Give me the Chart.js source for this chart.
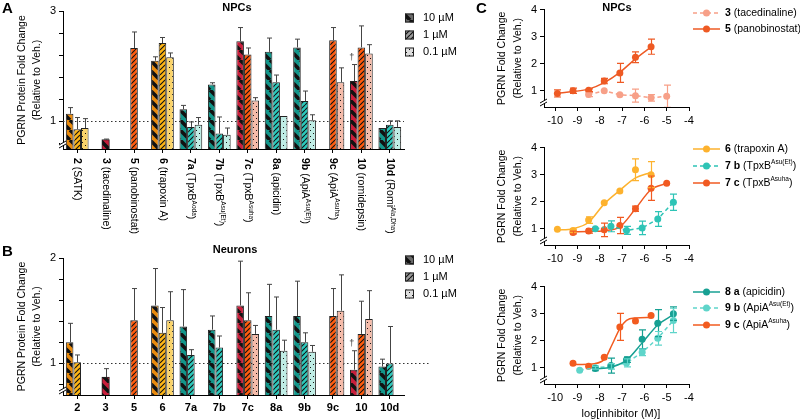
<!DOCTYPE html>
<html>
<head>
<meta charset="utf-8">
<script src="https://cdn.jsdelivr.net/npm/chart.js@4.4.1/dist/chart.umd.min.js"></script>
<style>
html, body { margin: 0; padding: 0; background: #fff; }
#wrap { position: relative; width: 800px; height: 419px; overflow: hidden; }
canvas { position: absolute; }
</style>
</head>
<body>
<div id="wrap">
  <canvas id="chartA" width="470" height="243" style="left:0;top:0"></canvas>
  <canvas id="chartB" width="470" height="176" style="left:0;top:243px"></canvas>
  <canvas id="chartC1" width="330" height="131" style="left:470px;top:0"></canvas>
  <canvas id="chartC2" width="330" height="131" style="left:470px;top:138px"></canvas>
  <canvas id="chartC3" width="330" height="142" style="left:470px;top:277px"></canvas>
</div>
<script>
const FONT = '"Liberation Sans", Arial, sans-serif';

// ---- panels A/B: compounds on the x axis ----
const compounds = ['2', '3', '5', '6', '7a', '7b', '7c', '8a', '9b', '9c', '10', '10d'];
const compoundNames = ['SATK', 'tacedinaline', 'panobinostat', 'trapoxin A', 'TpxB', 'TpxB', 'TpxB',
  'apicidin', 'ApiA', 'ApiA', 'romidepsin', 'Romi'];
const compoundSups = ['', '', '', '', 'Aoda', 'Asu(Et)', 'Asuha', '', 'Asu(Et)', 'Asuha', '', 'Ala,Dha'];
const singleDose = ['3'];   // only one bar, drawn centred on its compound
const doseLabels = ['10 µM', '1 µM', '0.1 µM'];

// A - NPCs
const npc10 = [1.14, 0.67, null, 2.10, 1.22, 1.67, 2.45, 2.26, 2.34, null, 1.73, 0.88];
const npc10Err = [0.11, 0.01, null, 0.07, 0.07, 0.03, 0.25, 0.25, 0.15, null, 0.30, 0];
const npc1 = [0.86, null, 2.33, 2.42, 0.90, 0.78, 2.21, 1.71, 1.37, 2.47, 2.34, 0.94];
const npc1Err = [0.21, null, 0.29, 0.10, 0.09, 0.30, 0.12, 0.13, 0.18, 0.23, 0.39, 0.07];
const npc01 = [0.88, null, null, 2.16, 0.94, 0.76, 1.38, 1.10, 1.02, 1.71, 2.23, 0.90];
const npc01Err = [0.17, null, null, 0.08, 0.13, 0.12, 0.05, 0, 0.10, 0.26, 0.16, 0.11];
const yTicksA = [0.6, 0.8, 1, 1.2, 1.4, 1.6, 1.8, 2, 2.2, 2.4, 2.6, 2.8, 3];

// B - Neurons
const neu10 = [1.20, 0.87, null, 1.55, 1.35, 1.32, 1.55, 1.45, 1.45, null, 0.94, 0.97];
const neu10Err = [0.18, 0.08, null, 0.35, 0.35, 0.13, 0.42, 0.30, 0.33, null, 0.18, 0.07];
const neu1 = [1.01, null, 1.41, 1.29, 1.08, 1.15, 1.41, 1.32, 1.20, 1.45, 1.28, 1.00];
const neu1Err = [0.07, null, 0.30, 0.24, 0.05, 0.11, 0.26, 0.31, 0.09, 0.26, 0.31, 0.35];
const neu01 = [null, null, null, 1.41, null, null, 1.28, 1.12, 1.11, 1.50, 1.42, null];
const neu01Err = [null, null, null, 0.27, null, null, 0.08, 0.10, 0.06, 0.34, 0.27, null];
const yTicksB = [0.8, 1, 1.2, 1.4, 1.6, 1.8, 2];

// ---- panel C: dose response, x = log[inhibitor (M)] ----
const xTicksC = [-10, -9, -8, -7, -6, -5, -4];
const yTicksC = [1, 2, 3, 4];

const tacX = [-8.5, -7.8, -7.1, -6.4, -5.7, -5.0];
const tacY = [0.86, 1.00, 0.85, 0.82, 0.74, 0.80];
const tacErr = [0.08, 0, 0, 0.24, 0.12, 0.41];

const panoX = [-9.9, -9.2, -8.5, -7.8, -7.1, -6.4, -5.7];
const panoY = [0.90, 1.00, 1.02, 1.36, 1.66, 2.24, 2.63];
const panoErr = [0.13, 0.10, 0.05, 0.10, 0.35, 0.20, 0.28];
const panoFit = [0.91, 0.97, 1.06, 1.30, 1.68, 2.18, 2.62];

const tpxAX = [-9.9, -9.2, -8.5, -7.8, -7.1, -6.4, -5.7];
const tpxAY = [0.98, 0.94, 1.32, 1.96, 2.40, 3.18, 3.00];
const tpxAErr = [0, 0.05, 0.12, 0, 0, 0.40, 0.48];
const tpxAFit = [0.95, 1.00, 1.24, 1.92, 2.42, 2.88, 3.08];

const tpxEtX = [-8.2, -7.5, -6.8, -6.1, -5.4, -4.7];
const tpxEtY = [1.00, 1.09, 0.94, 1.03, 1.36, 1.98];
const tpxEtErr = [0, 0.20, 0.15, 0.25, 0.27, 0.30];

const tpxHaX = [-9.2, -8.5, -7.8, -7.1, -6.4, -5.7, -5.0];
const tpxHaY = [0.86, 0.92, 0.96, 1.12, 1.74, 2.50, 2.68];
const tpxHaErr = [0.05, 0.08, 0.25, 0.30, 0.10, 0.45, 0];
const tpxHaFit = [0.89, 0.90, 0.93, 1.07, 1.74, 2.45, 2.68];

const apiX = [-8.2, -7.5, -6.8, -6.1, -5.4, -4.7];
const apiY = [0.97, 1.08, 1.30, 2.05, 2.65, 3.00];
const apiErr = [0.08, 0.28, 0.10, 0.35, 0.50, 0.25];
const apiFit = [0.96, 1.02, 1.28, 1.92, 2.58, 2.96];

const apiEtX = [-8.9, -8.2, -7.5, -6.8, -6.1, -5.4, -4.7];
const apiEtY = [0.91, 1.00, 1.05, 1.18, 1.57, 2.09, 2.75];
const apiEtErr = [0, 0.05, 0.10, 0.15, 0.12, 0.25, 0.45];

const apiHaX = [-9.2, -8.5, -7.8, -7.1, -6.4, -5.7];
const apiHaY = [1.17, 1.06, 1.39, 2.51, 2.73, 2.93];
const apiHaErr = [0, 0, 0, 0.50, 0, 0];
const apiHaFitX = [-9.2, -8.5, -7.8, -7.45, -7.1, -6.8, -6.4, -5.7];
const apiHaFit = [1.12, 1.13, 1.30, 1.85, 2.45, 2.75, 2.84, 2.86];

// ---- styles ----
const family = ['orange', 'red', 'red', 'orange', 'teal', 'teal', 'red', 'teal', 'teal', 'red', 'red', 'teal'];
const palette = {
  orange: ['#E98A0C', '#FDB515', '#FAD36A'],
  red: ['#C81F3C', '#FF5B0E', '#F5BBA9'],
  teal: ['#13968A', '#2CC8BB', '#BFEDE5']
};
const fills = ['stripe', 'hatch', 'dots'];
const legendGreys = ['#6a6a6a', '#9a9a9a', '#dedede'];

Chart.defaults.font.family = FONT;
Chart.defaults.font.size = 11;
Chart.defaults.color = '#000';

const patternCache = {};
function makePattern(color, kind) {
  const key = color + kind;
  if (patternCache[key]) return patternCache[key];
  const s = kind === 'stripe' ? 10 : kind === 'hatch' ? 5 : 6;
  const c = document.createElement('canvas');
  c.width = s; c.height = s;
  const g = c.getContext('2d');
  g.fillStyle = color; g.fillRect(0, 0, s, s);
  g.strokeStyle = '#111'; g.fillStyle = '#111';
  if (kind === 'dots') {
    g.fillRect(1, 1, 1, 1); g.fillRect(4, 4, 1, 1);
  } else {
    g.lineWidth = kind === 'stripe' ? 3.6 : 1.1;
    g.beginPath();
    for (const off of [-s, 0, s]) {
      if (kind === 'stripe') { g.moveTo(off, 0); g.lineTo(off + s, s); }
      else { g.moveTo(off, s); g.lineTo(off + s, 0); }
    }
    g.stroke();
  }
  patternCache[key] = g.createPattern(c, 'repeat');
  return patternCache[key];
}

// draws bold / normal / superscript runs left to right
function richText(ctx, x, y, parts, size) {
  let cx = x;
  ctx.textAlign = 'left';
  ctx.textBaseline = 'middle';
  parts.forEach(p => {
    if (!p.t) return;
    const fs = p.sup ? size * 0.62 : size;
    ctx.font = (p.bold ? 'bold ' : '') + fs + 'px ' + FONT;
    ctx.fillText(p.t, cx, p.sup ? y - size * 0.32 : y);
    cx += ctx.measureText(p.t).width;
  });
}

function compoundParts(i) {
  return [{ t: compounds[i], bold: true }, { t: ' (' + compoundNames[i] }, { t: compoundSups[i], sup: true }, { t: ')' }];
}

const errorBars = {
  id: 'errorBars',
  afterDatasetsDraw(chart) {
    const { ctx, chartArea: a } = chart;
    const ys = chart.scales.y;
    chart.data.datasets.forEach((ds, i) => {
      if (!ds.errors) return;
      const meta = chart.getDatasetMeta(i);
      const isBar = meta.type === 'bar';
      ctx.save();
      ctx.beginPath(); ctx.rect(a.left - 5, a.top - 20, a.width + 10, a.height + 20); ctx.clip();
      ctx.strokeStyle = isBar ? '#444' : ds.borderColor;
      ctx.lineWidth = isBar ? 1 : 1.2;
      meta.data.forEach((el, j) => {
        const raw = ds.data[j];
        const v = raw != null && typeof raw === 'object' ? raw.y : raw;
        const e = ds.errors[j];
        if (v == null || !e) return;
        const x = Math.round(el.x) + 0.5;
        const top = ys.getPixelForValue(v + e);
        const bot = isBar ? el.y : ys.getPixelForValue(v - e);
        const cap = isBar ? 2.5 : 3.5;
        ctx.beginPath();
        ctx.moveTo(x, bot); ctx.lineTo(x, top);
        ctx.moveTo(x - cap, top); ctx.lineTo(x + cap, top);
        if (!isBar) { ctx.moveTo(x - cap, bot); ctx.lineTo(x + cap, bot); }
        ctx.stroke();
      });
      ctx.restore();
    });
  }
};

function makeDecor(cfg) {
  return {
    id: 'decor',
    beforeDatasetsDraw(chart) {
      if (cfg.refLine == null) return;
      const { ctx, chartArea: a } = chart;
      const y = Math.round(chart.scales.y.getPixelForValue(cfg.refLine)) + 0.5;
      ctx.save();
      ctx.strokeStyle = '#333'; ctx.lineWidth = 1.2; ctx.setLineDash([1.5, 2.5]);
      ctx.beginPath(); ctx.moveTo(a.left, y); ctx.lineTo(a.right + (cfg.refExtra || 0), y); ctx.stroke();
      ctx.restore();
    },
    afterDraw(chart) {
      const { ctx, chartArea: a } = chart;
      ctx.save();
      ctx.fillStyle = '#000';

      // axis break at the bottom of the y axis
      ctx.fillStyle = '#fff';
      ctx.fillRect(a.left - 3, a.bottom - 7, 6, 3);
      ctx.strokeStyle = '#000'; ctx.lineWidth = 1;
      ctx.beginPath();
      ctx.moveTo(a.left - 4, a.bottom - 4); ctx.lineTo(a.left + 3, a.bottom - 8);
      ctx.moveTo(a.left - 4, a.bottom - 1); ctx.lineTo(a.left + 3, a.bottom - 5);
      ctx.stroke();
      ctx.fillStyle = '#000';

      // panel letter and title
      ctx.textAlign = 'left'; ctx.textBaseline = 'middle';
      ctx.font = 'bold 15px ' + FONT;
      ctx.fillText(cfg.letter.t, cfg.letter.x, cfg.letter.y);
      if (cfg.title) {
        ctx.textAlign = 'center';
        ctx.font = 'bold 11px ' + FONT;
        ctx.fillText(cfg.title.t, cfg.title.x, cfg.title.y);
      }

      // y axis title, two rotated lines
      const yc = (a.top + a.bottom) / 2;
      ctx.font = '10.5px ' + FONT;
      cfg.yTitle.lines.forEach((line, k) => {
        ctx.save();
        ctx.translate(cfg.yTitle.xs[k], yc);
        ctx.rotate(-Math.PI / 2);
        ctx.textAlign = 'center'; ctx.textBaseline = 'middle';
        ctx.fillText(line, 0, 0);
        ctx.restore();
      });

      if (cfg.xTitle) {
        ctx.textAlign = 'center'; ctx.textBaseline = 'middle';
        ctx.font = '11px ' + FONT;
        ctx.fillText(cfg.xTitle.t, cfg.xTitle.x, cfg.xTitle.y);
      }

      // rotated compound names under panel A
      if (cfg.rotLabels) {
        const xs = chart.scales.x;
        compounds.forEach((c, i) => {
          ctx.save();
          ctx.translate(xs.getPixelForValue(i), a.bottom + 9);
          ctx.rotate(Math.PI / 2);
          richText(ctx, 0, 0, compoundParts(i), 10.5);
          ctx.restore();
        });
      }

      // bar legend (dose)
      if (cfg.barLegend) {
        cfg.barLegend.ys.forEach((y, d) => {
          ctx.fillStyle = makePattern(legendGreys[d], fills[d]);
          ctx.fillRect(cfg.barLegend.x, y - 4.5, 9, 9);
          ctx.strokeStyle = '#222'; ctx.lineWidth = 1;
          ctx.strokeRect(cfg.barLegend.x + 0.5, y - 4, 8, 8);
          ctx.fillStyle = '#000';
          richText(ctx, cfg.barLegend.x + 18, y, [{ t: doseLabels[d] }], 11);
        });
      }

      // dagger marks
      (cfg.daggers || []).forEach(dg => {
        const ds = chart.data.datasets[dg.ds];
        const el = chart.getDatasetMeta(dg.ds).data[dg.idx];
        const top = chart.scales.y.getPixelForValue(ds.data[dg.idx] + (ds.errors[dg.idx] || 0));
        ctx.fillStyle = '#333';
        ctx.font = '9px ' + FONT; ctx.textAlign = 'center'; ctx.textBaseline = 'middle';
        ctx.fillText('\u2020', el.x - 2, top - 7);
      });

      // line legend
      if (cfg.lineLegend) {
        const L = cfg.lineLegend;
        L.entries.forEach((e, k) => {
          const y = L.ys[k];
          ctx.strokeStyle = e.color; ctx.fillStyle = e.color; ctx.lineWidth = 1.5;
          ctx.setLineDash(e.dashed ? [4, 3] : []);
          ctx.beginPath(); ctx.moveTo(L.x, y); ctx.lineTo(L.x + 27, y); ctx.stroke();
          ctx.setLineDash([]);
          ctx.beginPath(); ctx.arc(L.x + 13.5, y, 3.5, 0, Math.PI * 2); ctx.fill();
          ctx.fillStyle = '#000';
          richText(ctx, L.x + 32, y, e.parts, 10.5);
        });
      }
      ctx.restore();
    }
  };
}

function barSets(vals, errs) {
  const sets = vals.map((arr, d) => ({
    label: doseLabels[d],
    data: arr.map((v, i) => d === 0 && singleDose.includes(compounds[i]) ? null : v),
    errors: errs[d],
    backgroundColor: compounds.map((c, i) => makePattern(palette[family[i]][d], fills[d])),
    borderColor: '#222',
    borderWidth: 1,
    categoryPercentage: 0.8,
    barPercentage: 1
  }));
  sets.push({
    label: doseLabels[0],
    data: vals[0].map((v, i) => singleDose.includes(compounds[i]) ? v : null),
    errors: errs[0],
    grouped: false,
    barThickness: 7.6,
    backgroundColor: compounds.map((c, i) => makePattern(palette[family[i]][0], fills[0])),
    borderColor: '#222',
    borderWidth: 1
  });
  return sets;
}

function axisLook(tickLength) {
  return {
    grid: { display: true, drawOnChartArea: false, drawTicks: true, tickLength: tickLength, color: '#000', offset: false },
    border: { display: true, color: '#000', width: 1 }
  };
}

function barOptions(yMin, yMax, yTicks, padTop, xHeight, showX) {
  return {
    responsive: false,
    animation: false,
    layout: { padding: { top: padTop, right: 66, left: 0, bottom: 0 } },
    plugins: { legend: { display: false }, tooltip: { enabled: false } },
    scales: {
      x: Object.assign(axisLook(4), {
        ticks: { display: showX, font: { weight: 'bold', size: 11 }, color: '#000', maxRotation: 0, autoSkip: false, padding: 2 },
        afterFit: s => { s.height = xHeight; }
      }),
      y: Object.assign(axisLook(4), {
        min: yMin, max: yMax,
        ticks: { font: { size: 11 }, color: '#000', padding: 3, callback: v => Number.isInteger(v) ? v : '' },
        afterBuildTicks: s => { s.ticks = yTicks.map(v => ({ value: v })); },
        afterFit: s => { s.width = 63; }
      })
    }
  };
}

new Chart(document.getElementById('chartA'), {
  type: 'bar',
  data: { labels: compounds, datasets: barSets([npc10, npc1, npc01], [npc10Err, npc1Err, npc01Err]) },
  options: barOptions(0.5, 3, yTicksA, 11, 94, false),
  plugins: [errorBars, makeDecor({
    refLine: 1,
    letter: { t: 'A', x: 2, y: 9 },
    title: { t: 'NPCs', x: 237, y: 8 },
    yTitle: { lines: ['PGRN Protein Fold Change', '(Relative to Veh.)'], xs: [22, 37] },
    rotLabels: true,
    barLegend: { x: 405, ys: [18, 35, 52] },
    daggers: [{ ds: 0, idx: 10 }]
  })]
});

new Chart(document.getElementById('chartB'), {
  type: 'bar',
  data: { labels: compounds, datasets: barSets([neu10, neu1, neu01], [neu10Err, neu1Err, neu01Err]) },
  options: barOptions(0.7, 2, yTicksB, 15, 24, true),
  plugins: [errorBars, makeDecor({
    refLine: 1,
    refExtra: 25,
    letter: { t: 'B', x: 2, y: 9 },
    title: { t: 'Neurons', x: 235, y: 7 },
    yTitle: { lines: ['PGRN Protein Fold Change', '(Relative to Veh.)'], xs: [22, 37] },
    barLegend: { x: 405, ys: [17, 34, 51] },
    daggers: [{ ds: 0, idx: 10 }]
  })]
});

function curveSets(series) {
  const sets = [];
  series.forEach(s => {
    if (s.fit) {
      const fx = s.fitX || s.x;
      sets.push({
        data: fx.map((x, i) => ({ x: x, y: s.fit[i] })),
        borderColor: s.color, borderWidth: 1.5, pointRadius: 0,
        cubicInterpolationMode: 'monotone', fill: false
      });
    }
    sets.push({
      data: s.x.map((x, i) => ({ x: x, y: s.y[i] })),
      errors: s.err,
      borderColor: s.color, backgroundColor: s.color,
      pointRadius: 3.5, pointBorderWidth: 0,
      showLine: !s.fit, borderDash: [4, 3], borderWidth: 1.5, tension: 0
    });
  });
  return sets;
}

function curveOptions(xHeight) {
  return {
    responsive: false,
    animation: false,
    layout: { padding: { top: 7, right: 111, left: 0, bottom: 0 } },
    plugins: { legend: { display: false }, tooltip: { enabled: false } },
    scales: {
      x: Object.assign(axisLook(4), {
        type: 'linear', min: -10.5, max: -4,
        ticks: { font: { size: 11 }, color: '#000', padding: 3 },
        afterBuildTicks: s => { s.ticks = xTicksC.map(v => ({ value: v })); },
        afterFit: s => { s.height = xHeight; }
      }),
      y: Object.assign(axisLook(4), {
        min: 0.4, max: 4,
        ticks: { font: { size: 11 }, color: '#000', padding: 3 },
        afterBuildTicks: s => { s.ticks = yTicksC.map(v => ({ value: v })); },
        afterFit: s => { s.width = 74; }
      })
    }
  };
}

const cTitle = { lines: ['PGRN Fold Change', '(Relative to Veh.)'], xs: [32, 48] };

const seriesC1 = [
  { x: tacX, y: tacY, err: tacErr, color: '#F7A088', dashed: true,
    parts: [{ t: '3', bold: true }, { t: ' (tacedinaline)' }] },
  { x: panoX, y: panoY, err: panoErr, fit: panoFit, color: '#EE5A24',
    parts: [{ t: '5', bold: true }, { t: ' (panobinostat)' }] }
];
const seriesC2 = [
  { x: tpxAX, y: tpxAY, err: tpxAErr, fit: tpxAFit, color: '#FDB22E',
    parts: [{ t: '6', bold: true }, { t: ' (trapoxin A)' }] },
  { x: tpxEtX, y: tpxEtY, err: tpxEtErr, color: '#2EC4B6', dashed: true,
    parts: [{ t: '7 b', bold: true }, { t: ' (TpxB' }, { t: 'Asu(Et)', sup: true }, { t: ')' }] },
  { x: tpxHaX, y: tpxHaY, err: tpxHaErr, fit: tpxHaFit, color: '#F15A22',
    parts: [{ t: '7 c', bold: true }, { t: ' (TpxB' }, { t: 'Asuha', sup: true }, { t: ')' }] }
];
const seriesC3 = [
  { x: apiX, y: apiY, err: apiErr, fit: apiFit, color: '#17A093',
    parts: [{ t: '8 a', bold: true }, { t: ' (apicidin)' }] },
  { x: apiEtX, y: apiEtY, err: apiEtErr, color: '#5FD5CA', dashed: true,
    parts: [{ t: '9 b', bold: true }, { t: ' (ApiA' }, { t: 'Asu(Et)', sup: true }, { t: ')' }] },
  { x: apiHaX, y: apiHaY, err: apiHaErr, fit: apiHaFit, fitX: apiHaFitX, color: '#F25B1F',
    parts: [{ t: '9 c', bold: true }, { t: ' (ApiA' }, { t: 'Asuha', sup: true }, { t: ')' }] }
];

function legendOf(series, ys) {
  return { x: 223, ys: ys, entries: series.map(s => ({ color: s.color, dashed: !!s.dashed, parts: s.parts })) };
}

new Chart(document.getElementById('chartC1'), {
  type: 'line',
  data: { datasets: curveSets(seriesC1) },
  options: curveOptions(24),
  plugins: [errorBars, makeDecor({
    letter: { t: 'C', x: 6, y: 9 },
    title: { t: 'NPCs', x: 147, y: 8 },
    yTitle: cTitle,
    lineLegend: legendOf(seriesC1, [13, 29])
  })]
});

new Chart(document.getElementById('chartC2'), {
  type: 'line',
  data: { datasets: curveSets(seriesC2) },
  options: curveOptions(24),
  plugins: [errorBars, makeDecor({
    letter: { t: '', x: 0, y: 0 },
    yTitle: cTitle,
    lineLegend: legendOf(seriesC2, [11, 28, 45])
  })]
});

new Chart(document.getElementById('chartC3'), {
  type: 'line',
  data: { datasets: curveSets(seriesC3) },
  options: curveOptions(35),
  plugins: [errorBars, makeDecor({
    letter: { t: '', x: 0, y: 0 },
    yTitle: cTitle,
    xTitle: { t: 'log[inhibitor (M)]', x: 151, y: 137 },
    lineLegend: legendOf(seriesC3, [15, 31, 48])
  })]
});
</script>
</body>
</html>
